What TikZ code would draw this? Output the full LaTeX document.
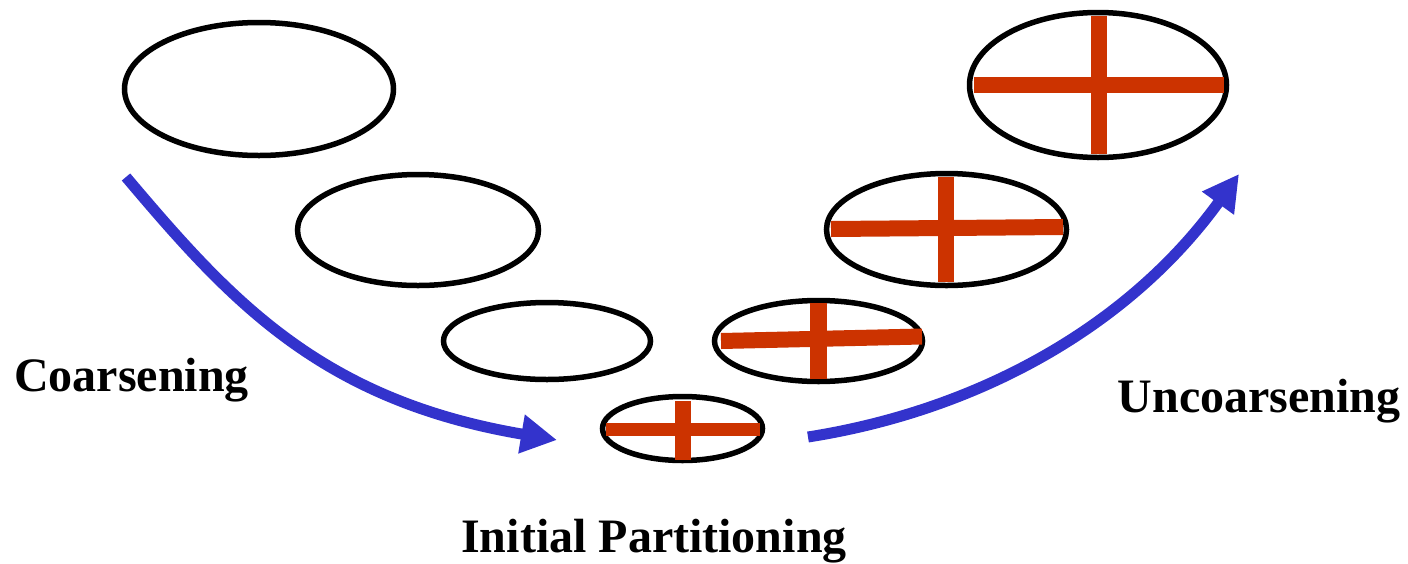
\documentclass[tikz,border=0pt]{standalone}
\usepackage{fontspec}
\setmainfont{Liberation Serif}
\usetikzlibrary{arrows.meta,shapes.geometric}
\definecolor{cutred}{RGB}{204,51,0}
\definecolor{flowblue}{RGB}{51,51,204}
\begin{document}
\begin{tikzpicture}[x=1pt,y=-1pt,
  level/.style={ellipse, draw=black, line width=5.5pt, inner sep=0pt, outer sep=0pt},
  cut/.style={draw=cutred, line width=16pt, line cap=butt},
  flow/.style={draw=flowblue, line width=11pt, line cap=butt,
    -{Triangle[length=36pt,width=37pt]}},
  caption/.style={font=\bfseries\fontsize{48}{57}\selectfont, inner sep=0pt, anchor=base}]
\useasboundingbox (0,0) rectangle (1408,563);

% graph levels, coarsest at the bottom
\node[level, minimum width=269pt, minimum height=133pt] (e1) at (259,89) {};
\node[level, minimum width=241pt, minimum height=111pt] (e2) at (418,230) {};
\node[level, minimum width=207pt, minimum height=77pt] (e3) at (547,341) {};
\node[level, minimum width=160pt, minimum height=64pt] (e4) at (682.5,428.5) {};
\node[level, minimum width=208pt, minimum height=81pt] (e5) at (818.5,341) {};
\node[level, minimum width=240pt, minimum height=112pt] (e6) at (946.5,229.5) {};
\node[level, minimum width=257pt, minimum height=145pt] (e7) at (1098,85) {};

% partition cuts
\draw[cut, line width=13pt] (606,429.5) -- (760,429.5);
\draw[cut] (682.5,401) -- (682.5,460);
\draw[cut] (721,341) -- (922,336.5);
\draw[cut, line width=17pt] (818.5,303) -- (818.5,379);
\draw[cut] (831,229) -- (1063,227);
\draw[cut] (946,177) -- (946,282);
\draw[cut] (974,85) -- (1224,85);
\draw[cut] (1098.5,16) -- (1098.5,154);

% phase arrows
\coordinate (cs) at (126,177);
\coordinate (ce) at (557,440);
\coordinate (us) at (808,437);
\coordinate (ue) at (1239,174);
\draw[flow] (cs) .. controls (230,300) and (320,400) .. (ce);
\draw[flow] (us) .. controls (980,410) and (1130,325) .. (ue);

% phase labels
\node[caption] (lc) at (131.5,391) {Coarsening};
\node[caption] (lu) at (1259,412) {Uncoarsening};
\node[caption] (li) at (654,552) {Initial Partitioning};
\end{tikzpicture}
\end{document}
